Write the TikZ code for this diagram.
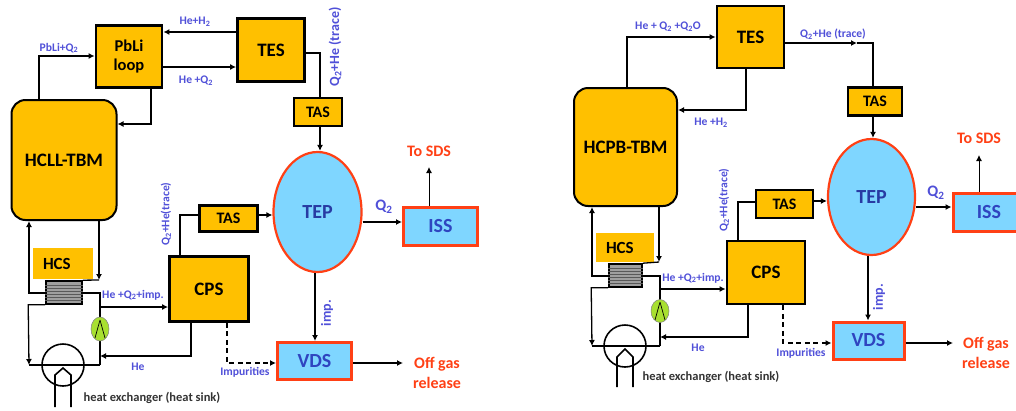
\documentclass[tikz,border=0pt]{standalone}
\usepackage{fontspec}
\setmainfont{Carlito}
\usepackage{tikz}
\usetikzlibrary{arrows.meta,calc,positioning,shapes.geometric}
\definecolor{boxorange}{HTML}{FFC000}
\definecolor{boxblue}{HTML}{7FD6FF}
\definecolor{linered}{HTML}{FF4015}
\definecolor{flowblue}{HTML}{5050D8}
\definecolor{bigblue}{HTML}{2F45C0}
\definecolor{pumpgreen}{HTML}{A8E030}
\tikzset{%
	tbm/.style      = {draw=black, line width=2pt, fill=boxorange, rounded corners=14pt, font=\fontsize{19}{21}\selectfont\bfseries, inner sep=0pt},
	plant/.style    = {draw=black, line width=2.8pt, fill=boxorange, font=\fontsize{19}{21}\selectfont\bfseries, align=center, inner sep=0pt},
	tas/.style      = {draw=black, line width=2.4pt, fill=boxorange, font=\fontsize{16}{18}\selectfont\bfseries, inner sep=0pt},
	hcs/.style      = {fill=boxorange, font=\fontsize{17}{19}\selectfont\bfseries, inner sep=0pt},
	redbox/.style   = {draw=linered, line width=3pt, fill=boxblue, text=bigblue, font=\fontsize{20}{22}\selectfont\bfseries, inner sep=0pt},
	tep/.style      = {draw=linered, line width=2.2pt, fill=boxblue, shape=ellipse, text=bigblue!85!black, font=\fontsize{20}{22}\selectfont\bfseries, inner sep=0pt},
	exch/.style     = {draw=black, line width=1.6pt, fill=gray!75, inner sep=0pt},
	pump/.style     = {draw=gray, line width=.5pt, fill=pumpgreen, shape=ellipse, inner sep=0pt},
	sink/.style     = {draw=black, line width=1.6pt, shape=circle, inner sep=0pt},
	flow/.style     = {line width=1.3pt, -{Latex[length=6pt,width=6pt]}},
	pipe/.style     = {line width=1.3pt},
	dashflow/.style = {flow, line width=1.5pt, dash pattern=on 5pt off 3.5pt},
	lab/.style      = {text=flowblue, font=\fontsize{11.6}{13}\selectfont\bfseries, inner sep=0pt},
	tracelab/.style = {lab, rotate=90, font=\fontsize{14}{16}\selectfont\bfseries},
	redlab/.style   = {text=linered, font=\fontsize{16}{20}\selectfont\bfseries, align=center, inner sep=0pt},
	sinklab/.style  = {text=black!80, font=\fontsize{12.5}{14}\selectfont\bfseries, inner sep=0pt},
}
\newcommand{\Qtwo}{Q\textsubscript{2}}
\begin{document}
\begin{tikzpicture}[x=1pt,y=-1pt]
	\useasboundingbox (0,0) rectangle (1016,410);
	
	% left plant
	\node[tbm,minimum width=105pt,minimum height=120pt] (tbmL) at (64,160) {HCLL-TBM};
	\node[plant,minimum width=66pt,minimum height=62pt,font=\fontsize{16.5}{19}\selectfont\bfseries] (pbli) at (129,56.5) {PbLi\\loop};
	\node[plant,minimum width=67pt,minimum height=63pt] (tesL) at (271,50) {TES};
	\node[tas,minimum width=48pt,minimum height=28pt] (tasaL) at (318,112) {TAS};
	\node[tep,minimum width=88pt,minimum height=120pt] (tepL) at (317.5,212) {TEP};
	\node[redbox,minimum width=74pt,minimum height=38pt] (issL) at (440.5,226.5) {ISS};
	\node[redbox,minimum width=74pt,minimum height=37pt] (vdsL) at (314.5,361) {VDS};
	\node[plant,minimum width=79pt,minimum height=65pt] (cpsL) at (209,289) {CPS};
	\node[tas,minimum width=58pt,minimum height=26pt] (tasbL) at (228.5,218.5) {TAS};
	\node[hcs,minimum width=60pt,minimum height=31pt,text width=40pt] (hcsL) at (63,263.5) {HCS};
	\node[exch,minimum width=36pt,minimum height=23pt] (hxL) at (64,292.5) {};
	\foreach \y in {-8,-5,...,8} \draw[black!65,line width=.7pt] ([yshift=\y pt]hxL.west) -- ([yshift=\y pt]hxL.east);
	\node[sink,minimum size=42pt] (sinkL) at (63,365) {};
	\coordinate (hxtopL) at (99,280);
	\coordinate (sinkwL) at (29,365);
	\coordinate (sinkeL) at (100,365);
	
	\draw[flow] (tbmL.north -| 39,0) |- (pbli.west |- 0,56);
	\draw[flow] (tesL.west |- 0,32) -- (pbli.east |- 0,32);
	\draw[flow] (pbli.east |- 0,67) -- (tesL.west |- 0,67);
	\draw[flow] (pbli.south -| 151,0) |- (tbmL.east |- 0,124);
	\draw[pipe] (tesL.east |- 0,53) -| (tasaL.north -| 320,0);
	\draw[flow] (tasaL.south -| 320,0) -- (tepL.north -| 320,0);
	\draw[flow] (hxL.west |- 0,293) -| (tbmL.south -| 29,0);
	\draw[flow] (tbmL.south -| 99,0) -- (hxtopL);
	\draw[pipe] (hxtopL) -- (hxL.north east);
	\draw[pipe] (hxL.east |- 0,293) -| (sinkeL);
	\draw[pipe] (sinkeL) -- (sinkwL);
	\draw[flow] (hxL.south west) -- ++(-17,0) -- (sinkwL);
	\draw[flow] (sinkeL |- 0,307) -- (cpsL.west |- 0,307);
	\draw[flow] (cpsL.south -| 191,0) |- (sinkeL |- 0,356);
	\draw[dashflow] (cpsL.south -| 227,0) |- (vdsL.west |- 0,363);
	\draw[pipe] (cpsL.north -| 180,0) |- (tasbL.west |- 0,215);
	\draw[flow] (tasbL.east |- 0,215) -- (tepL.west |- 0,215);
	\draw[flow] (tepL.east |- 0,222) -- (issL.west |- 0,222);
	\draw[flow] (tepL.south -| 315,0) -- (vdsL.north -| 315,0);
	\coordinate (sdsL) at (429,167);
	\draw[flow,line width=.9pt] (issL.north -| sdsL) -- (sdsL);
	\coordinate (gasL) at (403,363);
	\draw[flow] (vdsL.east |- gasL) -- (gasL);
	% pump sits on the pipe
	\node[pump,minimum width=18pt,minimum height=24pt] (pumpL) at (100,329) {};
	\draw[line width=.7pt] ([yshift=9pt]pumpL.center) -- ([xshift=-5pt,yshift=-9pt]pumpL.center) ([yshift=9pt]pumpL.center) -- ([xshift=5pt,yshift=-9pt]pumpL.center);
	% house inside the sink
	\draw[line width=1.6pt] (55,407) -- (55,375) -- (63,368) -- (71,375) -- (71,407);
	
	\node[lab] (l1) at (195,22) {He+H\textsubscript{2}};
	\node[lab] (l2) at (196,81) {He +\Qtwo};
	\node[lab] (l3) at (59,48) {PbLi+\Qtwo};
	\node[tracelab] (l4) at (335,47) {\Qtwo+He (trace)};
	\node[lab,rotate=90] (l5) at (166,214) {\Qtwo+He(trace)};
	\node[lab] (l6) at (133,295) {He +\Qtwo+imp.};
	\node[lab] (l7) at (138,367) {He};
	\node[lab] (l8) at (245,372) {Impurities};
	\node[tracelab] (l9) at (327,313) {imp.};
	\node[lab,font=\fontsize{16}{18}\selectfont\bfseries] (q2L) at (384,207) {\Qtwo};
	\node[redlab] (sdsnL) at (429,151) {To SDS};
	\node[redlab] (offL) at (437,373) {Off gas\\release};
	\node[sinklab] (hsL) at (152,398) {heat exchanger (heat sink)};
	
	% right plant
	\node[tbm,minimum width=103pt,minimum height=118pt] (tbmR) at (625.5,147) {HCPB-TBM};
	\node[plant,minimum width=67pt,minimum height=62pt] (tesR) at (750.5,37) {TES};
	\node[tas,minimum width=54pt,minimum height=28pt] (tasaR) at (875,101.5) {TAS};
	\node[tep,minimum width=87pt,minimum height=116pt] (tepR) at (871.5,197) {TEP};
	\node[redbox,minimum width=72pt,minimum height=38pt] (issR) at (989,212) {ISS};
	\node[redbox,minimum width=71pt,minimum height=37pt] (vdsR) at (868.5,340.5) {VDS};
	\node[plant,minimum width=78pt,minimum height=63pt] (cpsR) at (766,272.5) {CPS};
	\node[tas,minimum width=57pt,minimum height=28pt] (tasbR) at (784.5,204) {TAS};
	\node[hcs,minimum width=58pt,minimum height=29pt,text width=38pt] (hcsR) at (625,247.5) {HCS};
	\node[exch,minimum width=33pt,minimum height=23pt] (hxR) at (625.5,275.5) {};
	\foreach \y in {-8,-5,...,8} \draw[black!65,line width=.7pt] ([yshift=\y pt]hxR.west) -- ([yshift=\y pt]hxR.east);
	\node[sink,minimum size=42pt] (sinkR) at (625,346) {};
	\coordinate (hxtopR) at (659,262);
	\coordinate (sinkwR) at (592,346);
	\coordinate (sinkeR) at (660,346);
	\coordinate (tracemid) at (857,43);
	
	\draw[flow] (tbmR.north -| 627,0) |- (tesR.west |- 0,37);
	\draw[flow] (tesR.south -| 746,0) |- (tbmR.east |- 0,110);
	\draw[flow] (tesR.east |- tracemid) -- (tracemid);
	\draw[pipe] (tracemid) -| (tasaR.north -| 873,0);
	\draw[flow] (tasaR.south -| 873,0) -- (tepR.north -| 873,0);
	\draw[flow] (hxR.west |- 0,276) -| (tbmR.south -| 592,0);
	\draw[flow] (tbmR.south -| 659,0) -- (hxtopR);
	\draw[pipe] (hxtopR) -- (hxR.north east);
	\draw[pipe] (hxR.east |- 0,276) -| (sinkeR);
	\draw[pipe] (sinkeR) -- (sinkwR);
	\draw[flow] (hxR.south west) -- ++(-17,0) -- (sinkwR);
	\draw[flow] (sinkeR |- 0,289) -- (cpsR.west |- 0,289);
	\draw[flow] (cpsR.south -| 748,0) |- (sinkeR |- 0,337);
	\draw[dashflow] (cpsR.south -| 783,0) |- (vdsR.west |- 0,343);
	\draw[pipe] (cpsR.north -| 738,0) |- (tasbR.west |- 0,202);
	\draw[flow] (tasbR.east |- 0,201) -- (tepR.west |- 0,201);
	\draw[flow] (tepR.east |- 0,207) -- (issR.west |- 0,207);
	\draw[flow] (tepR.south -| 868,0) -- (vdsR.north -| 868,0);
	\coordinate (sdsR) at (979,155);
	\draw[flow,line width=.9pt] (issR.north -| sdsR) -- (sdsR);
	\coordinate (gasR) at (953,343);
	\draw[flow] (vdsR.east |- gasR) -- (gasR);
	\node[pump,minimum width=18pt,minimum height=23pt] (pumpR) at (660,311) {};
	\draw[line width=.7pt] ([yshift=9pt]pumpR.center) -- ([xshift=-5pt,yshift=-9pt]pumpR.center) ([yshift=9pt]pumpR.center) -- ([xshift=5pt,yshift=-9pt]pumpR.center);
	\draw[line width=1.6pt] (617,387) -- (617,357) -- (625,349) -- (633,357) -- (633,387);
	
	\node[lab] (r1) at (668,27) {He + \Qtwo{} +\Qtwo O};
	\node[lab] (r2) at (833,34) {\Qtwo+He (trace)};
	\node[lab] (r3) at (711,123) {He +H\textsubscript{2}};
	\node[lab,rotate=90] (r4) at (724,200) {\Qtwo+He(trace)};
	\node[lab] (r5) at (693,278) {He +\Qtwo+imp.};
	\node[lab] (r6) at (698,348) {He};
	\node[lab] (r7) at (801,353) {Impurities};
	\node[tracelab] (r8) at (879,297) {imp.};
	\node[lab,font=\fontsize{16}{18}\selectfont\bfseries] (q2R) at (936,193) {\Qtwo};
	\node[redlab] (sdsnR) at (979,138) {To SDS};
	\node[redlab] (offR) at (986,353) {Off gas\\release};
	\node[sinklab] (hsR) at (711,377) {heat exchanger (heat sink)};
\end{tikzpicture}
\end{document}
